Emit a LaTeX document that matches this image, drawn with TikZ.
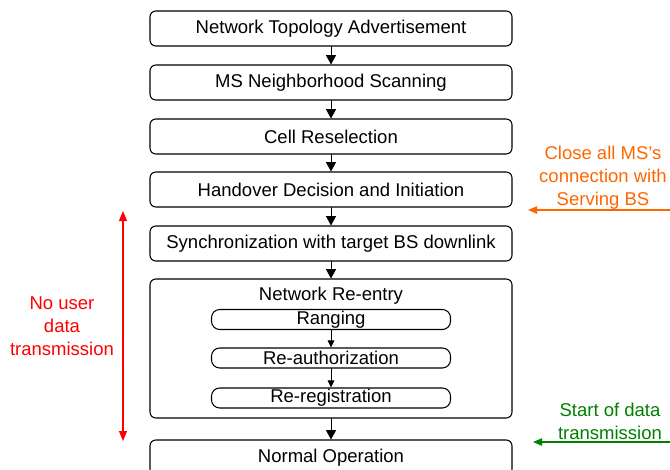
\documentclass[tikz,border=0pt]{standalone}
\usepackage{fontspec}
\setmainfont{Liberation Sans}
\usepackage{tikz}
\usetikzlibrary{arrows.meta,positioning}
\definecolor{closeorange}{RGB}{255,102,0}
\definecolor{startgreen}{RGB}{0,128,0}
\tikzset{
  stage/.style={draw,line width=0.9pt,rounded corners=5pt,
    minimum width=10.86cm,minimum height=1.05cm,inner sep=0pt},
  substage/.style={draw,line width=0.9pt,rounded corners=7pt,
    minimum width=7.17cm,minimum height=0.6cm,inner sep=0pt},
  flow/.style={line width=0.8pt,-{Triangle[length=0.28cm,width=0.3cm]}},
  subflow/.style={line width=0.7pt,-{Triangle[length=0.21cm,width=0.2cm]}},
  note/.style={align=center,font=\fontsize{15.8}{19.5}\selectfont},
  every node/.style={font=\fontsize{15.8}{18}\selectfont}
}

\begin{document}
\begin{tikzpicture}[x=0.03cm,y=-0.03cm,line cap=round,line join=round]
  % --- Window and clip ---
  \clip (0,0) rectangle (670,469);

  % --- Handover stages ---
  \node[stage] (topo)   at (331,28.5)  {Network Topology Advertisement};
  \node[stage] (scan)   at (331,82.5)  {MS Neighborhood Scanning};
  \node[stage] (resel)  at (331,136.5) {Cell Reselection};
  \node[stage] (decide) at (331,189.5) {Handover Decision and Initiation};
  \node[stage] (sync)   at (331,243.5) {Synchronization with target BS downlink};
  \node[stage,minimum height=4.17cm] (reentry) at (331,348.5) {};
  \node[stage] (normal) at (331,457.5) {Normal Operation};

  % --- Network re-entry steps ---
  \node (reentrytitle) at (331,296) {Network Re-entry};
  \node[substage] (ranging) at (331,319.5) {Ranging};
  \node[substage] (reauth)  at (331,358)   {Re-authorization};
  \node[substage] (rereg)   at (331,398)   {Re-registration};

  % --- Flow between stages ---
  \draw[flow] (topo) -- (scan);
  \draw[flow] (scan) -- (resel);
  \draw[flow] (resel) -- (decide);
  \draw[flow] (decide) -- (sync);
  \draw[flow] (sync) -- (reentry);
  \draw[flow] (reentry) -- (normal);
  \draw[subflow] (ranging) -- (reauth);
  \draw[subflow] (reauth) -- (rereg);

  % --- Interruption span ---
  \coordinate (gapTop) at (123,211);
  \coordinate (gapBot) at (123,441);
  \draw[red,line width=1pt,{Triangle[length=0.3cm,width=0.24cm]}-{Triangle[length=0.3cm,width=0.24cm]}]
    (gapTop) -- (gapBot);
  \node[note,red] (gapnote) at (62,326) {No user\\data\\transmission};

  % --- Side notes ---
  \node[note,closeorange] (closenote) at (603,178)
    {Close all MS’s\\connection with\\Serving BS};
  \coordinate (closeTail) at (672,210);
  \coordinate (closeHead) at (528,210);
  \draw[closeorange,line width=1pt,-{Triangle[length=0.27cm,width=0.22cm]}]
    (closeTail) -- (closeHead);

  \node[note,startgreen] (startnote) at (610,421)
    {Start of data\\transmission};
  \coordinate (startTail) at (672,442);
  \coordinate (startHead) at (533,442);
  \draw[startgreen,line width=1pt,-{Triangle[length=0.27cm,width=0.22cm]}]
    (startTail) -- (startHead);

\end{tikzpicture}
\end{document}
